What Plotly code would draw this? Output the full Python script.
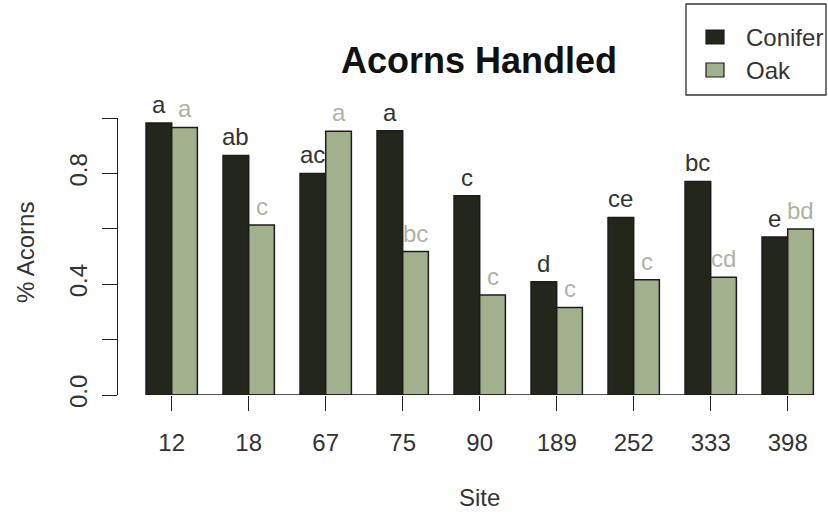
import plotly.graph_objects as go

# Sites and proportion of acorns handled per habitat
sites = ["12", "18", "67", "75", "90", "189", "252", "333", "398"]
conifer = [0.982, 0.865, 0.800, 0.954, 0.719, 0.409, 0.641, 0.771, 0.570]
oak = [0.966, 0.614, 0.952, 0.518, 0.361, 0.316, 0.416, 0.425, 0.599]

# Significance letters drawn above each bar
conifer_letters = ["a", "ab", "ac", "a", "c", "d", "ce", "bc", "e"]
oak_letters = ["a", "c", "a", "bc", "c", "c", "c", "cd", "bd"]

y_ticks = [0.0, 0.2, 0.4, 0.6, 0.8, 1.0]
y_ticktext = ["0.0", "", "0.4", "", "0.8", ""]

CONIFER_COL = "#23261a"
OAK_COL = "#a2b18d"
EDGE_COL = "#1c1c1c"
FONT = "Liberation Sans, Arial, sans-serif"

W, H = 828, 515
L, R, T, B = 118, 0, 118, 120
BAR_W = 1 / 3

x_idx = list(range(len(sites)))
pw, ph = W - L - R, H - T - B


def px_x(px):
    return (px - L) / pw


def px_y(py):
    return (H - B - py) / ph


fig = go.Figure()
fig.add_bar(x=x_idx, y=conifer, width=BAR_W, offset=-BAR_W, name="Conifer",
            marker=dict(color=CONIFER_COL, line=dict(color=EDGE_COL, width=1.5)),
            showlegend=False)
fig.add_bar(x=x_idx, y=oak, width=BAR_W, offset=0, name="Oak",
            marker=dict(color=OAK_COL, line=dict(color=EDGE_COL, width=1.5)),
            showlegend=False)

annotations = []
for i in x_idx:
    annotations.append(dict(x=i - BAR_W / 2, y=conifer[i], xref="x", yref="y",
                            text=conifer_letters[i], showarrow=False,
                            yanchor="bottom", yshift=3,
                            font=dict(family=FONT, size=24, color="#333333")))
    annotations.append(dict(x=i + BAR_W / 2, y=oak[i], xref="x", yref="y",
                            text=oak_letters[i], showarrow=False,
                            yanchor="bottom", yshift=3,
                            font=dict(family=FONT, size=24, color="#afb3a5")))

# axis titles
annotations.append(dict(x=px_x(479), y=px_y(497), xref="paper", yref="paper",
                        text="Site", showarrow=False, xanchor="center", yanchor="middle",
                        font=dict(family=FONT, size=24, color="#333333")))
annotations.append(dict(x=px_x(25), y=px_y(253), xref="paper", yref="paper",
                        text="% Acorns", showarrow=False, textangle=-90,
                        xanchor="center", yanchor="middle",
                        font=dict(family=FONT, size=24, color="#333333")))

# legend
legend_items = [("Conifer", CONIFER_COL, 37), ("Oak", OAK_COL, 70)]
shapes = [dict(type="rect", xref="paper", yref="paper",
               x0=px_x(686), x1=px_x(826), y0=px_y(95), y1=px_y(4),
               line=dict(color="#333333", width=1.3), fillcolor="white")]
for label, col, cy in legend_items:
    shapes.append(dict(type="rect", xref="paper", yref="paper",
                       x0=px_x(706), x1=px_x(724), y0=px_y(cy + 7), y1=px_y(cy - 7),
                       fillcolor=col, line=dict(color=EDGE_COL, width=1.2)))
    annotations.append(dict(x=px_x(744), y=px_y(cy), xref="paper", yref="paper",
                            text=label, showarrow=False, xanchor="left", yanchor="middle",
                            font=dict(family=FONT, size=24, color="#333333")))

# baseline under the bars
shapes.append(dict(type="line", xref="x", yref="y",
                   x0=x_idx[0] - BAR_W, x1=x_idx[-1] + BAR_W, y0=0, y1=0,
                   line=dict(color=EDGE_COL, width=1.5)))

fig.update_layout(
    width=W, height=H,
    margin=dict(l=L, r=R, t=T, b=B, pad=0),
    paper_bgcolor="white", plot_bgcolor="white",
    barmode="overlay",
    title=dict(text="<b>Acorns Handled</b>", x=479 / W, y=1 - 60 / H,
               xref="container", yref="container", xanchor="center", yanchor="middle",
               font=dict(family=FONT, size=36, color="#111111")),
    xaxis=dict(range=[(L - 171.7) / 77, (W - 171.7) / 77],
               tickmode="array", tickvals=x_idx, ticktext=sites,
               ticks="outside", ticklen=15, tickwidth=1.3, tickcolor="#222222",
               showline=False, showgrid=False, zeroline=False,
               tickfont=dict(family=FONT, size=24, color="#333333"),
               ticklabelstandoff=11),
    yaxis=dict(range=[0, 1], tickmode="array", tickvals=y_ticks, ticktext=y_ticktext,
               ticks="outside", ticklen=15, tickwidth=1.3, tickcolor="#222222",
               showline=True, linecolor="#222222", linewidth=1.3,
               showgrid=False, zeroline=False, tickangle=-90,
               tickfont=dict(family=FONT, size=24, color="#333333"),
               ticklabelstandoff=5),
    shapes=shapes,
    annotations=annotations,
)

fig.write_html("out.html")
